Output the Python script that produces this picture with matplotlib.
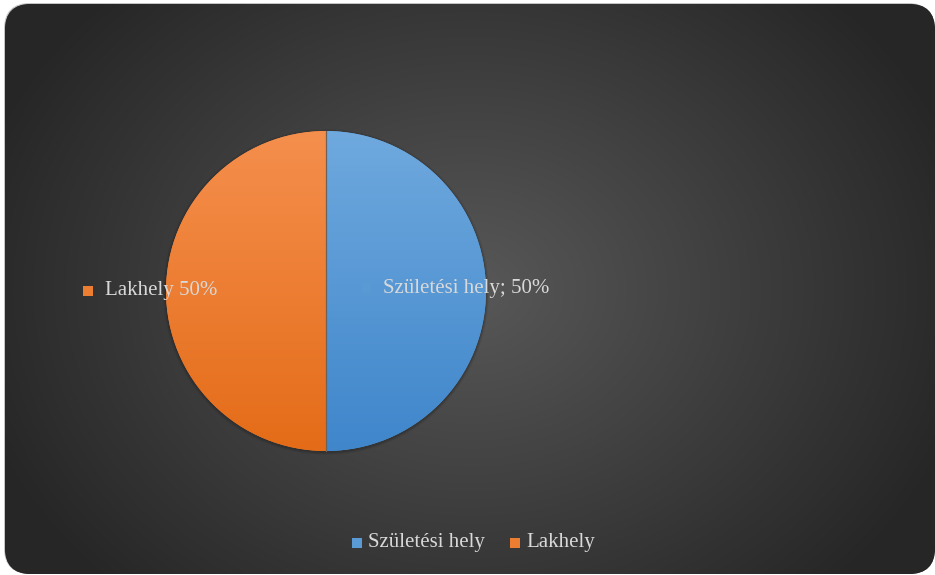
import numpy as np
import matplotlib.pyplot as plt
from matplotlib.patches import FancyBboxPatch, Rectangle
from matplotlib.colors import LinearSegmentedColormap

# adatok
categories = ['Születési hely', 'Lakhely']
values = [50, 50]
label_texts = ['Születési hely; 50%', 'Lakhely 50%']

colors = ['#5b9bd5', '#ed7d31']
grad_top = ['#6fa9de', '#f58f4d']
grad_bottom = ['#3f86cb', '#e46c18']

plt.rcParams['font.family'] = ['Liberation Serif', 'DejaVu Serif']
text_color = '#d9d9d9'

W, H = 935, 575
fig = plt.figure(figsize=(W / 100, H / 100), dpi=100, facecolor='white')
ax = fig.add_axes([0, 0, 1, 1])
ax.set_xlim(0, W)
ax.set_ylim(0, H)
ax.axis('off')

# háttér: lekerekített téglalap, radiális színátmenettel
rim = FancyBboxPatch((4, 1), W - 5, H - 4, boxstyle='round,pad=0,rounding_size=26',
                     facecolor='#c4c4c4', edgecolor='none', zorder=0.2)
ax.add_patch(rim)
bg = FancyBboxPatch((5, 1), W - 5, H - 5, boxstyle='round,pad=0,rounding_size=26',
                    facecolor='#333333', edgecolor='none', zorder=0.3)
ax.add_patch(bg)
yy, xx = np.mgrid[0:H, 0:W]
cx, cy = 470, H - 290
r = np.sqrt(((xx - cx) / 520) ** 2 + ((yy - cy) / 420) ** 2)
r = np.clip(r, 0, 1)
bg_cmap = LinearSegmentedColormap.from_list('bg', ['#585858', '#262626'])
im = ax.imshow(r, cmap=bg_cmap, extent=(0, W, 0, H), origin='lower', zorder=0.5,
               vmin=0, vmax=1, aspect='auto')
im.set_clip_path(bg)

# kördiagram
center = (326, H - 291)
radius = 160
wedges, _ = ax.pie(values, colors=colors, startangle=90, counterclock=False,
                   center=center, radius=radius, frame=True,
                   wedgeprops=dict(linewidth=0, zorder=3))
ax.set_xlim(0, W)
ax.set_ylim(0, H)
ax.set_aspect('auto')
ax.axis('off')

# árnyék
for k, a in [(3, 0.08), (2, 0.12), (1, 0.18)]:
    ax.add_patch(plt.Circle((center[0], center[1] - 1), radius + k, color='#1a1a1a',
                            alpha=a, zorder=2, linewidth=0))

# függőleges színátmenet a szeleteken
grad = np.linspace(0, 1, 256).reshape(-1, 1)
for w, top, bot in zip(wedges, grad_top, grad_bottom):
    cm = LinearSegmentedColormap.from_list('g', [bot, top])
    gi = ax.imshow(grad, cmap=cm, origin='lower', aspect='auto', zorder=4,
                   extent=(center[0] - radius, center[0] + radius,
                           center[1] - radius, center[1] + radius))
    gi.set_clip_path(w)
ax.plot([center[0], center[0]], [center[1] - radius, center[1] + radius],
        color='#6e6258', linewidth=0.9, zorder=4.5)

# adatfeliratok
label_pos = [(366, H - 288), (88, H - 291)]
for (x, y), txt, c in zip(label_pos, label_texts, colors):
    ax.add_patch(Rectangle((x - 5, y - 5), 10, 10, facecolor=c, edgecolor='none',
                           alpha=0.55 if c == colors[0] else 1, zorder=5))
    ax.text(x + 17, y, txt, color=text_color, fontsize=15, va='center', ha='left', zorder=6)

# jelmagyarázat
leg_x = [357, 515]
leg_y = H - 543
for x, name, c in zip(leg_x, categories, colors):
    ax.add_patch(Rectangle((x - 5, leg_y - 5), 10, 10, facecolor=c, edgecolor='none', zorder=5))
    ax.text(x + 11, leg_y + 1, name, color=text_color, fontsize=15, va='center', ha='left', zorder=6)

fig.savefig('out.png', dpi=100, facecolor='white')
